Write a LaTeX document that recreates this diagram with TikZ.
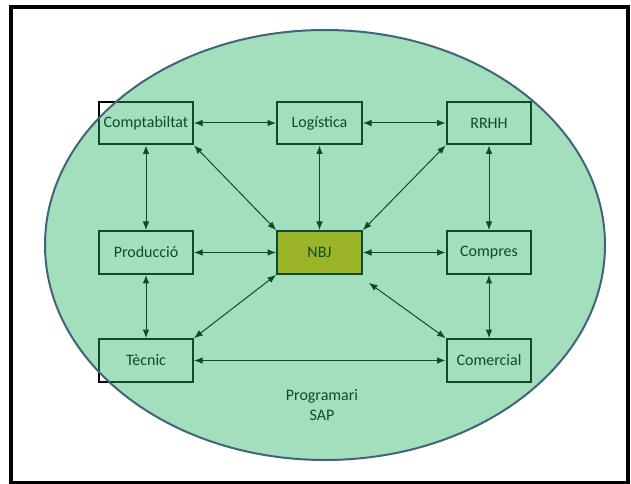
\documentclass[tikz,border=0pt]{standalone}
\usepackage{fontspec}
\setmainfont{Carlito}
\usetikzlibrary{arrows.meta}
\definecolor{tint}{RGB}{36,179,95}
\definecolor{edgeblue}{RGB}{65,100,125}
\definecolor{gold}{RGB}{240,180,0}
\begin{document}
\begin{tikzpicture}[x=0.75pt,y=-0.75pt,
  box/.style={draw=black, line width=1.5pt, minimum height=32pt, inner sep=0pt,
    font=\fontsize{12}{14}\selectfont},
  wbox/.style={box, minimum width=70.5pt},
  nbox/.style={box, minimum width=63.5pt},
  conn/.style={{Latex[length=6.5pt,width=5pt]}-{Latex[length=6.5pt,width=5pt]}, line width=0.75pt, black},
  label/.style={align=center, font=\fontsize{12}{15}\selectfont}]
\useasboundingbox (0,0) rectangle (631,484);
\draw[line width=2.5pt] (11,7) rectangle (628,482.5);
% boxes
\node[wbox] (comp) at (146,123) {Comptabiltat};
\node[nbox] (log)  at (319.5,123) {Logística};
\node[nbox] (rrhh) at (489,123) {RRHH};
\node[wbox] (prod) at (146,252.5) {Producció};
\node[nbox, fill=gold] (nbj) at (319.5,252.5) {NBJ};
\node[nbox] (compres) at (489,252.5) {Compres};
\node[wbox] (tec) at (146,360.5) {Tècnic};
\node[nbox] (comer) at (489,360.5) {Comercial};
\node[label] (sap) at (322,405) {Programari\\SAP};
% connectors
\draw[conn] (comp) -- (log);
\draw[conn] (log) -- (rrhh);
\draw[conn] (comp) -- (prod);
\draw[conn] (prod) -- (tec);
\draw[conn] (rrhh) -- (compres);
\draw[conn] (compres) -- (comer);
\draw[conn] (tec) -- (comer);
\draw[conn] (prod) -- (nbj);
\draw[conn] (nbj) -- (compres);
\draw[conn] (log) -- (nbj);
\draw[conn] (comp.south east) -- (nbj.north west);
\draw[conn] (rrhh.south west) -- (nbj.north east);
\draw[conn] (nbj.south west) -- (tec.north east);
\draw[conn] ([shift={(6,8)}]nbj.south east) -- (comer.north west);
% ellipse overlay
\fill[tint, fill opacity=0.42] (325,245) ellipse [x radius=210pt, y radius=161.25pt];
\draw[edgeblue, line width=1.5pt] (325,245) ellipse [x radius=210pt, y radius=161.25pt];
\end{tikzpicture}
\end{document}
